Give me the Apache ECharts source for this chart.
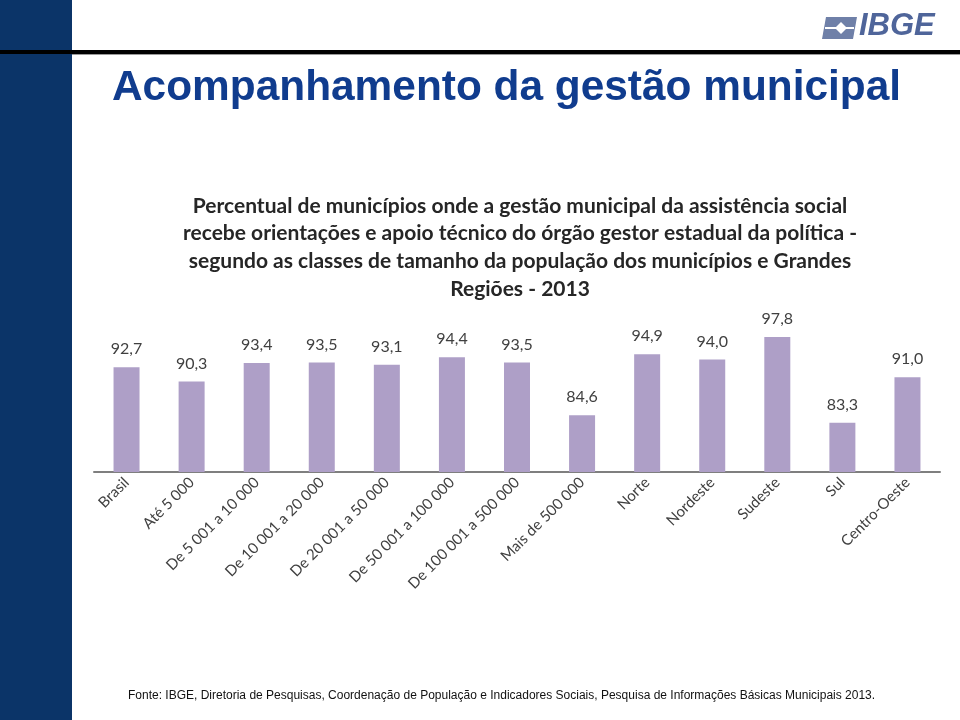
<!DOCTYPE html>
<html><head><meta charset="utf-8">
<script src="https://cdn.jsdelivr.net/npm/echarts@6/dist/echarts.min.js"></script>
<style>html,body{margin:0;padding:0;background:#fff}#c{width:960px;height:720px}</style>
</head><body><div id="c"></div>
<script>
const categories = ['Brasil','Até 5 000','De 5 001 a 10 000','De 10 001 a 20 000','De 20 001 a 50 000','De 50 001 a 100 000','De 100 001 a 500 000','Mais de 500 000','Norte','Nordeste','Sudeste','Sul','Centro-Oeste'];
const values = [92.7, 90.3, 93.4, 93.5, 93.1, 94.4, 93.5, 84.6, 94.9, 94.0, 97.8, 83.3, 91.0];
const pageTitle = 'Acompanhamento da gestão municipal';
const chartTitle = 'Percentual de municípios onde a gestão municipal da assistência social\nrecebe orientações e apoio técnico do órgão gestor estadual da política -\nsegundo as classes de tamanho da população dos municípios e Grandes\nRegiões - 2013';
const sourceText = 'Fonte: IBGE, Diretoria de Pesquisas, Coordenação de População e Indicadores Sociais, Pesquisa de Informações Básicas Municipais 2013.';

const chart = echarts.init(document.getElementById('c'), null, {renderer: 'canvas'});
chart.setOption({
  backgroundColor: '#ffffff',
  animation: false,
  title: [{
    text: pageTitle, left: 107, top: 62,
    textStyle: {fontFamily: 'Liberation Sans, Arial', fontWeight: 'bold', fontSize: 42.4, color: '#103c8e'}
  }, {
    text: chartTitle, left: 515, top: 187, textAlign: 'center',
    textStyle: {fontFamily: 'Lato, Open Sans', fontWeight: 'bold', fontSize: 21, lineHeight: 27.7, color: '#262626', align: 'center'}
  }],
  graphic: [
    {type: 'rect', shape: {x: 0, y: 0, width: 72, height: 720}, style: {fill: '#0b3468'}},
    {type: 'rect', shape: {x: 0, y: 50, width: 960, height: 4}, style: {fill: '#000'}},
    {type: 'rect', shape: {x: 72, y: 54, width: 888, height: 1}, style: {fill: '#9a9a9a'}},
    {type: 'group', left: 822, top: 17, children: [
      {type: 'polygon', shape: {points: [[4,0],[35,0],[31,22],[0,22]]}, style: {fill: '#6f80a8'}},
      {type: 'polygon', shape: {points: [[19,5],[25,11],[19,17],[13,11]]}, style: {fill: '#ffffff'}},
      {type: 'rect', shape: {x: 3, y: 10, width: 29, height: 2}, style: {fill: '#ffffff'}}
    ]},
    {type: 'text', left: 859, top: 11, style: {text: 'IBGE', font: 'italic bold 31px Liberation Sans, Arial', fill: '#4f659a'}},
    {type: 'text', left: 128, top: 690, style: {text: sourceText, font: '12px Liberation Sans, Arial', fill: '#111'}}
  ],
  grid: {left: 94, right: 20, top: 324, bottom: 248},
  xAxis: {
    type: 'category', data: categories,
    axisLine: {lineStyle: {color: '#7f7f7f', width: 2}},
    axisTick: {show: false},
    axisLabel: {rotate: 45, interval: 0, margin: 8, fontFamily: 'Lato, Open Sans', fontSize: 15, color: '#404040'}
  },
  yAxis: {type: 'value', min: 75, max: 100, show: false, splitLine: {show: false}},
  series: [{
    type: 'bar', data: values, barWidth: 26,
    itemStyle: {color: '#ae9fc7'},
    label: {show: true, position: 'top', distance: 10, fontFamily: 'Lato, Open Sans', fontSize: 16, color: '#404040',
      formatter: p => p.value.toFixed(1).replace('.', ',')}
  }]
});
</script></body></html>
